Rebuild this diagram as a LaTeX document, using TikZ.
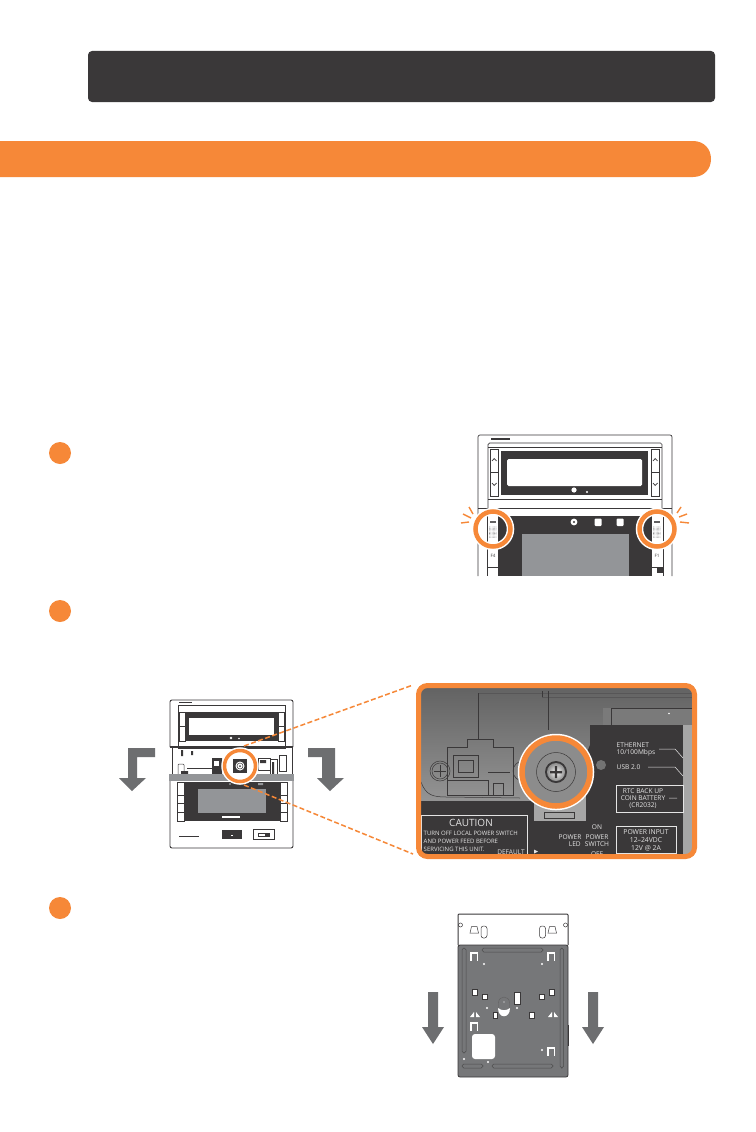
\documentclass[tikz,border=0pt]{standalone}
\usepackage{fontspec}
\setmainfont{Open Sans}
\usepackage{xcolor}
\usetikzlibrary{positioning,arrows.meta,shapes.geometric}
\definecolor{accent}{HTML}{F68838}
\definecolor{ink}{HTML}{3A3839}
\definecolor{screen}{HTML}{939598}
\definecolor{arrowgray}{HTML}{6D6E70}
\definecolor{platefill}{HTML}{767779}
\definecolor{etch}{HTML}{E4E4E4}
\tikzset{
  bullet/.style={circle,fill=accent,minimum size=22pt,inner sep=0pt,outer sep=0pt},
  ringmark/.style={circle,draw=accent,line width=#1,preaction={draw=white,line width=#1+3pt},inner sep=0pt,outer sep=0pt},
  keyline/.style={draw=ink,line width=0.7pt},
  hairline/.style={draw=ink,line width=0.5pt},
  spark/.style={draw=accent,line width=1.4pt},
  etched/.style={text=etch,font=\fontsize{6.6}{7}\selectfont,inner sep=0pt},
  etchbox/.style={draw=etch,line width=0.6pt},
  etchline/.style={draw=etch,line width=0.5pt},
  fkey/.style={text=ink,font=\fontsize{4.5}{5}\selectfont,inner sep=0pt},
  leader/.style={draw=accent,line width=1.5pt,dash pattern=on 5pt off 2.5pt},
  platehole/.style={fill=white,draw=ink,line width=0.5pt},
  slot/.style={draw=black!70,line width=0.5pt,rounded corners=1.8pt}
}
\begin{document}
\begin{tikzpicture}[x=1pt,y=-1pt]
  \useasboundingbox (0,0) rectangle (755,1132);
  \fill[white] (0,0) rectangle (755,1132);

  % banners
  \fill[ink,rounded corners=4pt] (88,51) rectangle (715,102);
  \fill[accent] (0,141) -- (693,141) .. controls (704,141) and (711,149) .. (711,159) .. controls (711,169) and (704,177) .. (693,177) -- (0,177) -- cycle;

  \node[bullet] (stepone) at (60,453) {};
  \node[bullet] (steptwo) at (60,611) {};
  \node[bullet] (stepthree) at (60,908) {};

  % first device
  \draw[keyline,rounded corners=2pt] (478,576) -- (478,435) -- (672,435) -- (672,576);
  \fill[ink] (491,438) rectangle (510,440);
  \draw[keyline,rounded corners=1.5pt] (488,508) -- (488,443) -- (662,443) -- (662,508);
  \draw[keyline] (488,447) -- (662,447) (488,499) -- (662,499) (478,508) -- (672,508);
  \fill[ink] (501,451) rectangle (648,495);
  \fill[white,rounded corners=1.5pt] (507,459) rectangle (642,486);
  \fill[white] (574,490) circle (2.6pt) (587,492) circle (1.1pt);
  \foreach \keyx in {490,651} {
    \draw[keyline] (\keyx,449) rectangle (\keyx+8.5,496) (\keyx,472) -- (\keyx+8.5,472);
    \draw[keyline] (\keyx+2,461) -- (\keyx+4.2,458.5) -- (\keyx+6.5,461);
    \draw[keyline] (\keyx+2,483) -- (\keyx+4.2,485.5) -- (\keyx+6.5,483);
  }
  \fill[ink] (498,516) rectangle (652,576);
  \fill[screen] (522,534) rectangle (629,576);
  \fill[white] (574,522) circle (3.4pt);
  \fill[ink] (574,522) circle (1.2pt);
  \fill[white,rounded corners=1pt] (594.5,518.5) rectangle (601.5,526) (616.5,518.5) rectangle (623.5,526);
  \draw[keyline] (487,508) -- (487,576) (663,508) -- (663,576);
  \draw[keyline] (487,548) -- (498,548) (487,567) -- (498,567) (652,548) -- (663,548) (652,567) -- (663,567);
  \node[fkey] (labelffour) at (493,556) {F4};
  \node[fkey] (labelfone) at (657,556) {F1};
  \fill[ink] (657,568) rectangle (663,573);
  \fill[ink!80] (490,520.5) rectangle (496,522.5);
  \fill[ink!80] (654,520.5) rectangle (660,522.5);
  \foreach \keyx in {489.5,653.5} \foreach \dotx in {0,1.3,...,6.6} \foreach \doty in {527,528.3,...,538}
    \fill[ink!80] (\keyx+\dotx,\doty) circle (0.3pt);
  \node[ringmark=4.5pt,minimum size=35pt] (ringleft) at (493,529) {};
  \node[ringmark=4.5pt,minimum size=35pt] (ringright) at (657,529) {};
  \draw[spark] (469,507) -- (473,514) (463,514) -- (471,518) (461,523) -- (469,522);
  \draw[spark] (681,507) -- (677,513) (687,514) -- (679,517) (689,523) -- (680,522);

  % second device
  \draw[keyline,line width=0.9pt,rounded corners=2pt] (170,747) -- (170,700) -- (293,700) -- (293,747);
  \draw[keyline] (178,705) rectangle (285,748);
  \fill[ink] (185,712) rectangle (278,741);
  \fill[white] (189,718) rectangle (274,735);
  \fill[white] (231,738) circle (1.4pt) (239,738.5) circle (0.8pt);
  \fill[ink] (179,702) rectangle (192,703.2);
  \foreach \keyx in {179,278} \draw[hairline] (\keyx,712) rectangle (\keyx+6,741) (\keyx,726) -- (\keyx+6,726);
  \draw[ink,line width=1.2pt] (170,747) -- (293,747);
  \draw[keyline] (172,747) -- (172,774) (292,747) -- (292,774);
  \fill[ink] (181,750) rectangle (183,756) (191,751) rectangle (193,755);
  \draw[hairline] (187,768) -- (213,768);
  \draw[hairline,rounded corners=1pt] (178,775) -- (178,764) -- (184,764) -- (184,775);
  \fill[ink] (181,771) rectangle (188,775) (212,758) rectangle (222,775);
  \fill[white] (214,761) rectangle (219,766);
  \draw[hairline] (258,758) rectangle (270,770) (270,759) rectangle (277,775) (279,755) rectangle (286,771);
  \fill[ink] (272,762) rectangle (274,775) (260,760) rectangle (266,763);
  \draw[keyline,line width=0.9pt,rounded corners=2pt] (170,781) -- (170,848) -- (293,848) -- (293,781);
  \fill[ink] (184,782) rectangle (280,821);
  \fill[screen] (198,789) rectangle (266,813);
  \fill[screen] (230,784) circle (1.2pt) (258,783) rectangle (263,785);
  \fill[white] (222,816) rectangle (240,818);
  \foreach \keyx in {177,280} \foreach \keyy in {782,795,803,812}
    \draw[hairline] (\keyx,\keyy) rectangle (\keyx+7,\keyy+\ifnum\keyy=782 13\else\ifnum\keyy=795 8\else 9\fi\fi);
  \fill[ink] (222,830) rectangle (242,839);
  \fill[white] (231,834.5) rectangle (233,835.5);
  \fill[ink] (179,836) rectangle (199,837.2);
  \draw[hairline] (253,829) rectangle (274,839);
  \draw[hairline] (258,833) rectangle (265,836);
  \fill[ink] (265,833) rectangle (270,837);
  \fill[screen] (169,774) rectangle (294,781);
  \fill[arrowgray] (155,748) -- (128,748) -- (128,778) -- (119,778) -- (132,791) -- (146,778) -- (137,778) -- (137,757) -- (155,757) -- cycle;
  \fill[arrowgray] (308,748) -- (335,748) -- (335,778) -- (344,778) -- (330,791) -- (317,778) -- (322,778) -- (322,757) -- (308,757) -- cycle;

  % enlarged view
  \begin{scope}
    \clip[rounded corners=9pt] (417,684) rectangle (696,858);
    \shade[top color=black!62,bottom color=black!42] (416,683) rectangle (697,801);
    \fill[black!52] (603,708) rectangle (697,725);
    \fill[black!35] (683,725) rectangle (697,859);
    \fill[ink] (416,801) rectangle (683,859);
    \fill[ink] (613,725) rectangle (683,860);
    \fill[ink] (590,725) -- (613,725) -- (613,801) -- (566,801) -- (590,745) -- cycle;
    \fill[black!35] (534,795) rectangle (586,821);
    \draw[ink!85,line width=0.5pt] (478,693) -- (697,693) (542,697) -- (697,697);
    \draw[ink,line width=0.5pt] (478,693) -- (478,739) (542,691) -- (542,697) (548,691) -- (548,730);
    \draw[ink,line width=0.5pt] (611,708) -- (697,708) (611,708) -- (611,725);
    \draw[ink,line width=0.8pt] (447,795) -- (447,747) -- (467,747) -- (467,739) -- (493,739) -- (493,747) -- (513,747) -- (513,795) -- cycle;
    \draw[ink,line width=0.5pt] (421,782) .. controls (426,795) and (432,797) .. (447,797) -- (520,798);
    \draw[ink,line width=0.6pt] (453,755) rectangle (478,777) (458,760) rectangle (473,772);
    \draw[ink,line width=0.5pt] (447,780) -- (488,780) -- (488,795) (488,772) -- (510,772) (493,783) rectangle (503,795);
    \draw[ink,line width=0.5pt] (440,771) circle (10pt) (440,771) circle (8pt);
    \draw[ink,line width=0.5pt] (440,765) -- (440,777) (434,771) -- (446,771);
    \draw[ink,line width=0.5pt] (523,771) circle (10pt);
    \fill[black!55] (601,765) circle (5pt);
    \draw[ink,line width=0.5pt] (544,812) rectangle (574,818);
    \fill[white] (669,713.5) circle (0.8pt);
    \node[etched,anchor=west] (labelether) at (616.5,745) {ETHERNET};
    \node[etched,anchor=west] (labelmbps) at (616.5,753) {10/100Mbps};
    \node[etched,anchor=west] (labelusb) at (616.5,767) {USB 2.0};
    \draw[etchline] (659,749) -- (675,749) -- (683,758) (648,767) -- (675,767) -- (683,776) (669,798) -- (677,798);
    \draw[etchbox] (616,785) rectangle (683,812);
    \node[etched] (labelrtc) at (643,791) {RTC BACK UP};
    \node[etched] (labelcoin) at (643,798.5) {COIN BATTERY};
    \node[etched] (labelcell) at (643,806) {(CR2032)};
    \draw[etchbox] (616,826) rectangle (676,853);
    \node[etched,font=\fontsize{6.8}{7}\selectfont] (labelinput) at (646,832) {POWER INPUT};
    \node[etched,font=\fontsize{6.8}{7}\selectfont] (labelvolt) at (646,840) {12--24VDC};
    \node[etched,font=\fontsize{6.8}{7}\selectfont] (labelamp) at (646,848) {12V @ 2A};
    \draw[etchbox] (421,815) rectangle (527,866);
    \node[etched,font=\fontsize{10}{10}\selectfont] (labelcaution) at (471,823) {CAUTION};
    \node[etched,anchor=west,font=\fontsize{6}{7}\selectfont] (labelturn) at (423.5,833) {TURN OFF LOCAL POWER SWITCH};
    \node[etched,anchor=west,font=\fontsize{6}{7}\selectfont] (labelfeed) at (423.5,841) {AND POWER FEED BEFORE};
    \node[etched,anchor=west,font=\fontsize{6}{7}\selectfont] (labelserv) at (423.5,849) {SERVICING THIS UNIT.};
    \node[etched,font=\fontsize{6.5}{7}\selectfont] (labeldefault) at (511,852) {DEFAULT};
    \fill[etch] (534,849.5) -- (538,851.5) -- (534,853.5) -- cycle;
    \node[etched] (labelon) at (597,827) {ON};
    \node[etched] (labelpowerleft) at (570,837) {POWER};
    \node[etched] (labelpowerright) at (597,837) {POWER};
    \node[etched,anchor=east] (labelled) at (581,844.5) {LED};
    \node[etched] (labelswitch) at (597,844.5) {SWITCH};
    \node[etched] (labeloff) at (597,854) {OFF};
  \end{scope}

  % screw
  \node[ringmark=5.5pt,minimum size=68pt,fill=black!45] (ringscrew) at (556,772) {};
  \draw[ink,line width=0.5pt] (ringscrew.center) circle (19.5pt);
  \fill[ink] (ringscrew.center) circle (11pt);
  \shade[inner color=white,outer color=black!45] (ringscrew.center) circle (9pt);
  \fill[ink] (550,771) rectangle (562,773.4) (554.8,766) rectangle (557.2,778);

  \node[ringmark=3.5pt,minimum size=31pt,fill=white] (ringsmall) at (240,766) {};
  \fill[ink] (233,759) rectangle (247,773);
  \fill[white] (240,766) circle (4.5pt);
  \draw[ink,line width=0.5pt] (240,766) circle (3pt);
  \fill[ink] (240,766) circle (1pt);

  \draw[accent,line width=5pt,rounded corners=9pt] (418.5,685.5) rectangle (694.5,856.5);
  \coordinate (uppernear) at (244,746);
  \coordinate (upperfar) at (413,685);
  \coordinate (lowernear) at (244,785);
  \coordinate (lowerfar) at (413,854);
  \draw[leader] (uppernear) -- (upperfar);
  \draw[leader] (lowernear) -- (lowerfar);

  % back plate
  \draw[ink,line width=1pt,rounded corners=1pt] (458,945) -- (458,914) -- (568,914) -- (568,945);
  \fill[platefill,rounded corners=2pt] (458,945) rectangle (568,1077);
  \draw[ink,line width=0.8pt,rounded corners=2pt] (458,945) rectangle (568,1077);
  \draw[ink,line width=0.9pt] (568.5,1025) -- (568.5,1046);
  \foreach \slotx in {470,548} {
    \draw[hairline] (\slotx,933) -- (\slotx+1.5,926.5) -- (\slotx+7,926.5) -- (\slotx+8.5,933) -- cycle;
  }
  \draw[hairline,rounded corners=2.5pt] (481,926) rectangle (487,938) (539.5,926) rectangle (545.5,938);
  \draw[hairline] (460.5,925) circle (2pt) (565.5,925) circle (2pt);
  \draw[slot] (462,948) rectangle (466,1053) (560,948) rectangle (563.5,1068) (482,948) rectangle (543,952) (462,1064) rectangle (483,1068) (492,1064) rectangle (553,1068);
  \foreach \hookx/\hooky in {470/952,547/952,470/1022,547/1047} {
    \fill[white] (\hookx,\hooky) rectangle (\hookx+8,\hooky+8.5);
    \fill[platefill] (\hookx+2,\hooky+2) rectangle (\hookx+6.5,\hooky+8.5);
  }
  \fill[white,rounded corners=3pt] (472,1034) rectangle (495,1059);
  \foreach \holex/\holey/\holew/\holeh in {472/989/5/6,482/994/5/5,539/994/5/5,549/989/5/6,493/1012/4/6,529/1012/5/6,514/992/6/12}
    \draw[platehole] (\holex,\holey) rectangle (\holex+\holew,\holey+\holeh);
  \fill[white] (498,1008) .. controls (498,1019) and (510,1019) .. (510,1008) .. controls (506,1011) and (502,1011) .. (498,1008);
  \draw[ink!80,line width=0.4pt] (498.5,1008) -- (498.5,1003) .. controls (498.5,995) and (509.5,995) .. (509.5,1003) -- (509.5,1008);
  \fill[white] (504,1002) circle (0.7pt);
  \foreach \dotx/\doty in {484,542} \fill[white] (\dotx,964) circle (1.2pt);
  \foreach \dotx/\doty in {487/1008,517/1008,542/1050,464/1059,488/1062} \fill[white] (\dotx,\doty) circle (1.2pt);
  \foreach \wedgex in {470,548} {
    \fill[white] (\wedgex,1017) -- (\wedgex+4,1017) -- (\wedgex+4,1012) -- cycle;
    \fill[white] (\wedgex+6,1017) -- (\wedgex+10,1017) -- (\wedgex+6,1012) -- cycle;
  }
  \fill[arrowgray] (428,992) rectangle (438,1027) (422,1027) -- (444,1027) -- (433,1044) -- cycle;
  \fill[arrowgray] (588,992) rectangle (598,1027) (582,1027) -- (604,1027) -- (593,1044) -- cycle;
\end{tikzpicture}
\end{document}
